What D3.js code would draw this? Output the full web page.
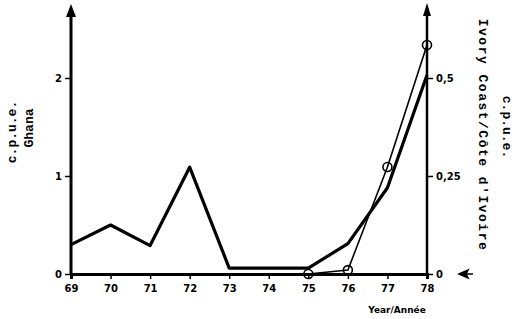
<!DOCTYPE html>
<html><head><meta charset="utf-8">
<script src="https://cdn.jsdelivr.net/npm/d3@7"></script>
<style>body{margin:0;background:#fff}svg{display:block}</style>
</head><body><svg id="c" width="519" height="319"></svg>
<script>
const years = [69,70,71,72,73,74,75,76,77,78];
const ghana = [0.30,0.50,0.29,1.09,0.06,0.06,0.06,0.31,0.88,2.03];
const ivoryYears = [75,76,77,78];
const ivory = [0.0,0.01,0.273,0.584];
const leftTicks = [0,1,2];
const rightTicks = [0,0.25,0.5];
const rightTickLabels = ["0","0,25","0,5"];

const svg = d3.select("#c");
const x = d3.scaleLinear().domain([69,78]).range([71,427]);
const yL = d3.scaleLinear().domain([0,2]).range([274,78]);
const yR = d3.scaleLinear().domain([0,0.5]).range([274,78]);
const font = "'DejaVu Sans', sans-serif";

// x axis
const xa = svg.append("g").attr("transform","translate(0,274)")
  .call(d3.axisBottom(x).tickValues(years).tickFormat(d=>d).tickSize(5).tickPadding(6));
xa.select(".domain").attr("stroke-width",3).attr("stroke","#000");
xa.selectAll(".tick line").attr("stroke-width",1.5);
xa.selectAll("text").attr("font-family",font).attr("font-weight","bold").attr("font-size",10).attr("fill","#000");

// left axis
const la = svg.append("g").attr("transform","translate(71,0)")
  .call(d3.axisLeft(yL).tickValues(leftTicks).tickFormat(d=>d).tickSize(6).tickPadding(3));
la.select(".domain").remove();
la.selectAll(".tick line").attr("stroke-width",1.5);
la.selectAll("text").attr("font-family",font).attr("font-weight","bold").attr("font-size",10).attr("fill","#000");
svg.append("line").attr("x1",71).attr("x2",71).attr("y1",274).attr("y2",12).attr("stroke","#000").attr("stroke-width",3);
svg.append("path").attr("d","M71,4 L66,17 L76,17 Z").attr("fill","#000");

// right axis
const ra = svg.append("g").attr("transform","translate(427,0)")
  .call(d3.axisRight(yR).tickValues(rightTicks).tickFormat((d,i)=>rightTickLabels[i]).tickSize(6).tickPadding(3));
ra.select(".domain").remove();
ra.selectAll(".tick line").attr("stroke-width",1.5);
ra.selectAll("text").attr("font-family",font).attr("font-weight","bold").attr("font-size",10).attr("fill","#000");
svg.append("line").attr("x1",427).attr("x2",427).attr("y1",274).attr("y2",12).attr("stroke","#000").attr("stroke-width",2.5);
svg.append("path").attr("d","M427,3 L423,16 L431,16 Z").attr("fill","#000");
// small pointer next to right 0
svg.append("path").attr("d","M459,274 L468,270 L466,274 L468,278 Z M466,274 L473,274").attr("fill","#000").attr("stroke","#000").attr("stroke-width",1.5);

// Ghana line (thick)
svg.append("path").datum(years.map((y,i)=>[y,ghana[i]]))
  .attr("d", d3.line().x(d=>x(d[0])).y(d=>yL(d[1])))
  .attr("fill","none").attr("stroke","#000").attr("stroke-width",3.2).attr("stroke-linejoin","round");

// Ivory Coast line (thin with circles)
const iv = ivoryYears.map((y,i)=>[y,ivory[i]]);
svg.append("path").datum(iv)
  .attr("d", d3.line().x(d=>x(d[0])).y(d=>yR(d[1])))
  .attr("fill","none").attr("stroke","#000").attr("stroke-width",1.6);
svg.selectAll("circle.iv").data(iv).enter().append("circle")
  .attr("cx",d=>x(d[0])).attr("cy",d=>yR(d[1])).attr("r",4.5)
  .attr("fill","none").attr("stroke","#000").attr("stroke-width",1.6);

// labels
const mono = "'Liberation Mono', 'DejaVu Sans Mono', monospace";
svg.append("text").attr("transform","translate(16,132) rotate(-90)").attr("text-anchor","middle")
  .attr("font-family",mono).attr("font-weight","bold").attr("font-size",13).text("c.p.u.e.");
svg.append("text").attr("transform","translate(33,128) rotate(-90)").attr("text-anchor","middle")
  .attr("font-family",mono).attr("font-weight","bold").attr("font-size",13).text("Ghana");
svg.append("text").attr("transform","translate(479,135) rotate(90)").attr("text-anchor","middle")
  .attr("font-family",mono).attr("font-weight","bold").attr("font-size",13).attr("letter-spacing",1.5)
  .text("Ivory Coast/Côte d'Ivoire");
svg.append("text").attr("transform","translate(503,127) rotate(90)").attr("text-anchor","middle")
  .attr("font-family",mono).attr("font-weight","bold").attr("font-size",13).text("c.p.u.e.");
svg.append("text").attr("x",397).attr("y",313).attr("text-anchor","middle")
  .attr("font-family",font).attr("font-weight","bold").attr("font-size",9).text("Year/Année");
</script></body></html>
